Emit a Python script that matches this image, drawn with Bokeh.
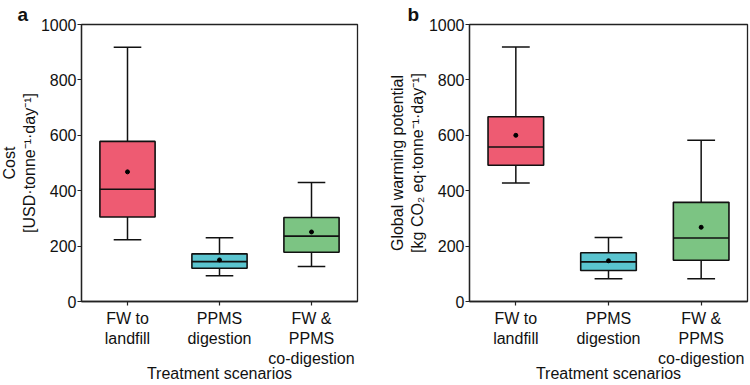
from bokeh.plotting import figure
from bokeh.layouts import row
from bokeh.models import FixedTicker, Range1d
from bokeh.embed import file_html
from bokeh.resources import INLINE

# Scenario names and tick labels
scenarios = [1, 2, 3]
scenario_labels = {1: "FW to\nlandfill", 2: "PPMS\ndigestion", 3: "FW &\nPPMS\nco-digestion"}
box_colors = ["#EE5B72", "#5AC4CF", "#7CC483"]

# Panel a: cost [USD·tonne-1·day-1]
cost_low = [223, 93, 126]
cost_q1 = [305, 120, 178]
cost_median = [405, 144, 236]
cost_q3 = [578, 172, 303]
cost_high = [918, 230, 430]
cost_mean = [468, 150, 251]

# Panel b: global warming potential [kg CO2 eq·tonne-1·day-1]
gwp_low = [428, 82, 82]
gwp_q1 = [492, 112, 149]
gwp_median = [558, 143, 229]
gwp_q3 = [667, 176, 358]
gwp_high = [919, 231, 582]
gwp_mean = [600, 147, 268]

FONT = "Liberation Sans"
INK = "#111111"
BOX_W = 0.6
CAP_W = 0.3


def box_panel(letter, ylabel, low, q1, med, q3, high, mean,
              border_left, border_right, letter_offset, margin):
    p = figure(width=375, height=385, output_backend="svg", toolbar_location=None,
               x_range=Range1d(0.5, 3.5), y_range=Range1d(0, 1000),
               min_border_left=border_left, min_border_right=border_right,
               min_border_top=24, min_border_bottom=84, margin=margin)
    p.xgrid.visible = False
    p.ygrid.visible = False
    p.outline_line_color = "#222222"
    p.outline_line_width = 1.3
    p.background_fill_color = "white"
    p.border_fill_color = "white"

    # whiskers and caps
    p.segment(x0=scenarios, y0=q3, x1=scenarios, y1=high, line_color=INK, line_width=1.5)
    p.segment(x0=scenarios, y0=low, x1=scenarios, y1=q1, line_color=INK, line_width=1.5)
    p.segment(x0=[s - CAP_W / 2 for s in scenarios], y0=high,
              x1=[s + CAP_W / 2 for s in scenarios], y1=high, line_color=INK, line_width=1.5)
    p.segment(x0=[s - CAP_W / 2 for s in scenarios], y0=low,
              x1=[s + CAP_W / 2 for s in scenarios], y1=low, line_color=INK, line_width=1.5)
    # interquartile boxes
    p.vbar(x=scenarios, width=BOX_W, bottom=q1, top=q3, fill_color=box_colors,
           line_color=INK, line_width=1.6)
    # medians
    p.segment(x0=[s - BOX_W / 2 for s in scenarios], y0=med,
              x1=[s + BOX_W / 2 for s in scenarios], y1=med, line_color=INK, line_width=1.6)
    # means
    p.scatter(x=scenarios, y=mean, size=4, color="black")

    p.xaxis.ticker = FixedTicker(ticks=scenarios)
    p.xaxis.major_label_overrides = scenario_labels
    p.yaxis.ticker = FixedTicker(ticks=[0, 200, 400, 600, 800, 1000])
    p.xaxis.minor_tick_line_color = None
    p.yaxis.minor_tick_line_color = None
    for ax in (p.xaxis, p.yaxis):
        ax.major_tick_in = 0
        ax.major_tick_out = 4
        ax.major_tick_line_color = "#222222"
        ax.major_tick_line_width = 1.2
        ax.axis_line_color = "#222222"
        ax.axis_line_width = 1.3
        ax.major_label_text_font = FONT
        ax.major_label_text_font_size = "16px"
        ax.major_label_text_color = INK
        ax.axis_label_text_font = FONT
        ax.axis_label_text_font_size = "16px"
        ax.axis_label_text_font_style = "normal"
        ax.axis_label_text_color = INK
    p.yaxis.major_label_standoff = 1
    p.xaxis.major_label_standoff = 4
    p.xaxis.axis_label = "Treatment scenarios"
    p.xaxis.axis_label_standoff = -5
    p.yaxis.axis_label = ylabel
    p.yaxis.axis_label_standoff = 0

    p.title.text = letter
    p.title.text_font = FONT
    p.title.text_font_size = "19px"
    p.title.text_font_style = "bold"
    p.title.text_color = INK
    p.title.standoff = 0
    p.title.offset = letter_offset
    return p


pa = box_panel("a", "Cost\n[USD·tonne⁻¹·day⁻¹]",
               cost_low, cost_q1, cost_median, cost_q3, cost_high, cost_mean,
               82, 15, -64, (0, 0, 0, -3))
pb = box_panel("b", "Global warming potential\n[kg CO₂ eq·tonne⁻¹·day⁻¹]",
               gwp_low, gwp_q1, gwp_median, gwp_q3, gwp_high, gwp_mean,
               94, 3, -62, (0, 0, 0, 3))

layout = row(pa, pb)
open("out.html", "w").write(file_html(layout, INLINE))
